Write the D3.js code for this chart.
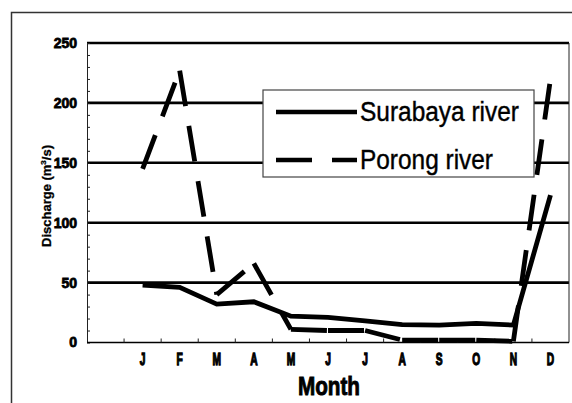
<!DOCTYPE html>
<html><head><meta charset="utf-8">
<script src="https://cdn.jsdelivr.net/npm/d3@7"></script>
<style>body{margin:0;background:#fff} svg{display:block}</style>
</head><body>
<script>
const months = ["J","F","M","A","M","J","J","A","S","O","N","D"];
const surabaya = [48,46,32,34,22,21,18,15,14.5,16,14.5,123];
const porong = [145,227,40,66,11,10,10,2,2,2,1,220];
const yTicks = [0,50,100,150,200,250];
const seriesNames = ["Surabaya river","Porong river"];

const W = 572, H = 403;
const m = {left:87, right:569, top:43, bottom:342.5};
const FONT = "'Liberation Sans', Arial, sans-serif";

const svg = d3.select("body").append("svg").attr("width", W).attr("height", H);
svg.append("rect").attr("width", W).attr("height", H).attr("fill", "#fff");
// outer frame
svg.append("path").attr("d", "M11.5,410 V12.5 H580")
  .attr("fill", "none").attr("stroke", "#333").attr("stroke-width", 1.5);

const x = d3.scaleBand().domain(d3.range(-1, 12)).range([m.left, m.right]);
const xc = i => x(i) + x.bandwidth() / 2;
const y = d3.scaleLinear().domain([0, 250]).range([m.bottom, m.top]);

// gridlines
svg.append("g").selectAll("line").data(yTicks.filter(v => v > 0)).join("line")
  .attr("x1", m.left).attr("x2", m.right)
  .attr("y1", d => y(d)).attr("y2", d => y(d))
  .attr("stroke", "#000").attr("stroke-width", 2.6);

// right border
svg.append("line").attr("x1", m.right).attr("x2", m.right).attr("y1", m.top).attr("y2", m.bottom)
  .attr("stroke", "#222").attr("stroke-width", 1);

// minor inner ticks on y axis
const yMinor = svg.append("g").attr("transform", `translate(${m.left},0)`)
  .call(d3.axisRight(y).tickValues(d3.range(0, 251, 10)).tickSize(3).tickSizeOuter(0).tickFormat(""));
yMinor.selectAll("line,path").attr("stroke", "#222");

// y labels
const yAx = svg.append("g").attr("transform", `translate(${m.left},0)`)
  .call(d3.axisLeft(y).tickValues(yTicks).tickSize(0).tickPadding(10));
yAx.select(".domain").remove();
yAx.selectAll("text").attr("font-family", FONT).attr("font-weight", "bold")
  .attr("font-size", 14).attr("fill", "#000").attr("stroke", "#000").attr("stroke-width", 0.8);

// x axis line
svg.append("line").attr("x1", m.left).attr("x2", m.right).attr("y1", m.bottom).attr("y2", m.bottom)
  .attr("stroke", "#000").attr("stroke-width", 1.5);

// x boundary ticks (pointing inward)
const bounds = x.domain().map(i => x(i)).slice(1);
svg.append("g").selectAll("line").data(bounds).join("line")
  .attr("x1", d => d).attr("x2", d => d)
  .attr("y1", m.bottom).attr("y2", m.bottom - 4)
  .attr("stroke", "#222").attr("stroke-width", 1);

// x labels
const xAx = svg.append("g").attr("transform", `translate(0,${m.bottom})`)
  .call(d3.axisBottom(x).tickFormat(i => i < 0 ? "" : months[i]).tickSize(0).tickPadding(10.5));
xAx.select(".domain").remove();
xAx.selectAll("text").attr("font-family", FONT).attr("font-weight", "bold")
  .attr("font-size", 17).attr("fill", "#000").attr("stroke", "#000").attr("stroke-width", 1.3)
  .attr("transform", "scale(0.6,1)");

// Axis titles
svg.append("text").attr("x", 329).attr("y", 395).attr("text-anchor", "middle")
  .attr("font-family", FONT).attr("font-weight", "bold").attr("font-size", 25)
  .attr("textLength", 62).attr("lengthAdjust", "spacingAndGlyphs")
  .attr("stroke", "#000").attr("stroke-width", 0.9)
  .text("Month");

const yt = svg.append("text").attr("transform", "translate(51,196) rotate(-90)")
  .attr("text-anchor", "middle").attr("font-family", FONT).attr("font-weight", "bold")
  .attr("font-size", 13).attr("textLength", 102).attr("lengthAdjust", "spacingAndGlyphs")
  .attr("stroke", "#000").attr("stroke-width", 0.3);
yt.append("tspan").text("Discharge (m");
yt.append("tspan").attr("font-size", 8).attr("dy", -5).text("3");
yt.append("tspan").attr("dy", 5).text("/s)");

// Series
const line = d3.line().x(d => xc(d[0])).y(d => y(d[1]));
svg.append("path").datum(surabaya.map((v, i) => [i, v]))
  .attr("d", line).attr("fill", "none").attr("stroke", "#000").attr("stroke-width", 4.8);

const segs = d3.pairs(porong.map((v, i) => [i, v]));
svg.append("g").selectAll("path").data(segs).join("path")
  .attr("d", d => line(d)).attr("fill", "none").attr("stroke", "#000")
  .attr("stroke-width", 4.8).attr("stroke-dasharray", "36,20");

// Legend
const lg = svg.append("g");
lg.append("rect").attr("x", 263).attr("y", 90).attr("width", 271).attr("height", 87)
  .attr("fill", "#fff").attr("stroke", "#444").attr("stroke-width", 1.2);
const legendY = [112, 160];
const lens = [159, 133];
seriesNames.forEach((name, k) => {
  lg.append("line").attr("x1", 276).attr("x2", 357).attr("y1", legendY[k]).attr("y2", legendY[k])
    .attr("stroke", "#000").attr("stroke-width", 4.5)
    .attr("stroke-dasharray", k === 1 ? "36,20" : null);
  lg.append("text").attr("x", 360).attr("y", legendY[k] + 8.5)
    .attr("font-family", FONT).attr("font-size", 27)
    .attr("stroke", "#000").attr("stroke-width", 0.4)
    .attr("textLength", lens[k]).attr("lengthAdjust", "spacingAndGlyphs")
    .text(name);
});
</script>
</body></html>
